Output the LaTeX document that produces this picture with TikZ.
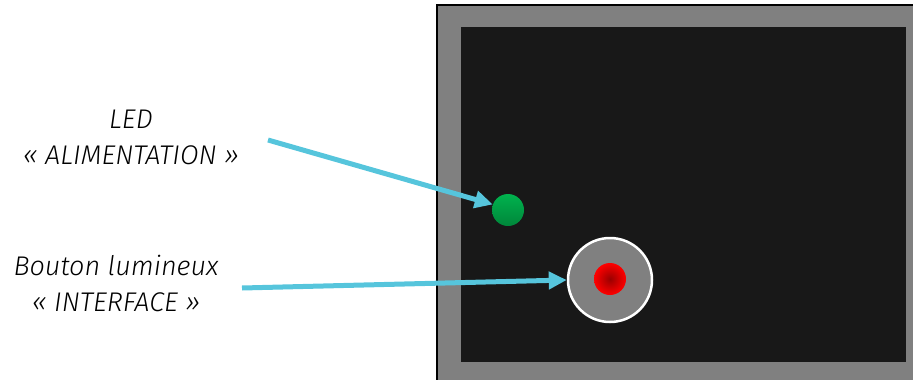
\documentclass[tikz,border=0pt]{standalone}
\usepackage{fontspec}
\setmainfont{Fira Sans Light}
\usetikzlibrary{arrows.meta}
\definecolor{frame}{HTML}{808080}
\definecolor{screen}{HTML}{181818}
\definecolor{cyanarrow}{HTML}{56C5DC}
\definecolor{ledlight}{HTML}{00B24E}
\definecolor{leddark}{HTML}{00863A}
\definecolor{redcore}{HTML}{9A0000}
\definecolor{redrim}{HTML}{FF0000}
\tikzset{
  lbl/.style={font=\fontsize{27}{36}\selectfont\itshape, text=black, align=center, inner sep=0pt},
  pointer/.style={draw=cyanarrow, line width=5pt, -{Triangle[length=18pt,width=17pt]}},
}
\begin{document}
\begin{tikzpicture}[x=1pt,y=-1pt]
\useasboundingbox (0,0) rectangle (913,380);
% panel
\fill[frame] (437,5) rectangle (920,390);
\draw[black, line width=2pt] (437,390) -- (437,5) -- (920,5);
\fill[screen] (461,27) rectangle (906,362);
% LED
\shade[shading angle=225, top color=ledlight, bottom color=leddark] (508,210) circle[radius=16];
\node[circle, minimum size=32pt, inner sep=0pt] (led) at (508,210) {};
% button
\node[circle, fill=frame, draw=white, line width=2.5pt, minimum size=84pt, inner sep=0pt] (btn) at (610,280) {};
\shade[inner color=redcore, outer color=redrim] (610,279) circle[radius=16];
% labels
\node[lbl] (l1) at (131,137) {LED\\« ALIMENTATION »};
\node[lbl] (l2) at (116,283) {Bouton lumineux\\« INTERFACE »};
\coordinate (s1) at (268,140);
\coordinate (s2) at (242,288);
\draw[pointer] (s1) -- (led.160);
\draw[pointer] (s2) -- (btn.west);
\end{tikzpicture}
\end{document}
